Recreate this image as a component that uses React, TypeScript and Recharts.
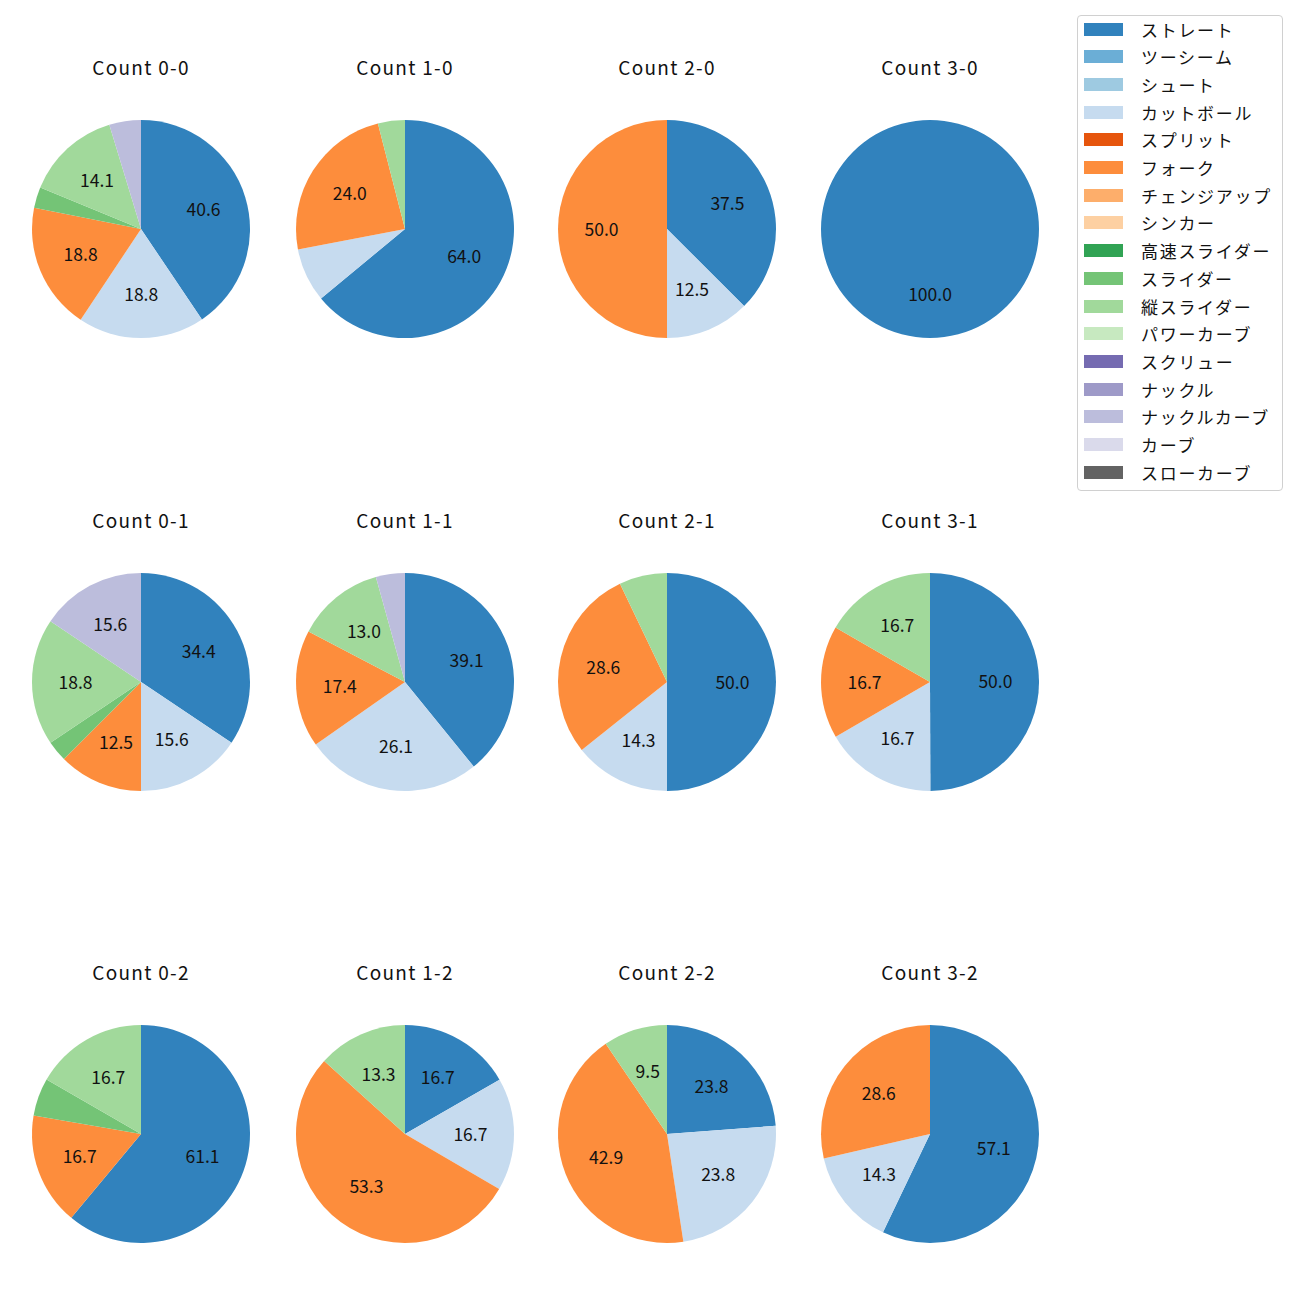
import { PieChart, Pie, Cell, Legend } from "recharts";

const pitchNames = [
  "ストレート", "ツーシーム", "シュート", "カットボール", "スプリット", "フォーク",
  "チェンジアップ", "シンカー", "高速スライダー", "スライダー", "縦スライダー",
  "パワーカーブ", "スクリュー", "ナックル", "ナックルカーブ", "カーブ", "スローカーブ",
];
const pitchColors = [
  "#3182bd", "#6baed6", "#9ecae1", "#c6dbef", "#e6550d", "#fd8d3c",
  "#fdae6b", "#fdd0a2", "#31a354", "#74c476", "#a1d99b", "#c7e9c0",
  "#756bb1", "#9e9ac8", "#bcbddc", "#dadaeb", "#636363",
];

// pitch index, share (%) in clockwise order from 12 o'clock
const count00 = [[0, 40.6], [3, 18.8], [5, 18.8], [9, 3.1], [10, 14.1], [14, 4.7]];
const count10 = [[0, 64.0], [3, 8.0], [5, 24.0], [10, 4.0]];
const count20 = [[0, 37.5], [3, 12.5], [5, 50.0]];
const count30 = [[0, 100.0]];
const count01 = [[0, 34.4], [3, 15.6], [5, 12.5], [9, 3.1], [10, 18.8], [14, 15.6]];
const count11 = [[0, 39.1], [3, 26.1], [5, 17.4], [10, 13.0], [14, 4.3]];
const count21 = [[0, 50.0], [3, 14.3], [5, 28.6], [10, 7.1]];
const count31 = [[0, 50.0], [3, 16.7], [5, 16.7], [10, 16.7]];
const count02 = [[0, 61.1], [5, 16.7], [9, 5.6], [10, 16.7]];
const count12 = [[0, 16.7], [3, 16.7], [5, 53.3], [10, 13.3]];
const count22 = [[0, 23.8], [3, 23.8], [5, 42.9], [10, 9.5]];
const count32 = [[0, 57.1], [3, 14.3], [5, 28.6]];

const panels = [
  { title: "Count 0-0", rows: count00 },
  { title: "Count 1-0", rows: count10 },
  { title: "Count 2-0", rows: count20 },
  { title: "Count 3-0", rows: count30 },
  { title: "Count 0-1", rows: count01 },
  { title: "Count 1-1", rows: count11 },
  { title: "Count 2-1", rows: count21 },
  { title: "Count 3-1", rows: count31 },
  { title: "Count 0-2", rows: count02 },
  { title: "Count 1-2", rows: count12 },
  { title: "Count 2-2", rows: count22 },
  { title: "Count 3-2", rows: count32 },
];

const colX = [141, 405, 667, 930];
const rowY = [229, 682, 1134];
const R = 109;
const FONT = "'Noto Sans CJK JP', 'DejaVu Sans', sans-serif";
const RAD = Math.PI / 180;

function renderLabel(p: any) {
  if (p.value < 9) return null;
  const r = p.outerRadius * 0.6;
  const x = p.cx + r * Math.cos(-p.midAngle * RAD);
  const y = p.cy + r * Math.sin(-p.midAngle * RAD);
  return (
    <text x={x} y={y - 1} textAnchor="middle" dominantBaseline="central"
      fontSize={17.5} fontFamily={FONT} fill="#111">
      {p.value.toFixed(1)}
    </text>
  );
}

function LegendBox() {
  return (
    <div style={{
      position: "absolute", left: 1077, top: 15, width: 204, height: 474,
      border: "1px solid #d0d0d0", borderRadius: 4, background: "#fff",
      fontFamily: FONT, fontSize: 17, color: "#111",
    }}>
      {pitchNames.map((n, i) => (
        <div key={n} style={{
          position: "absolute", left: 6, top: i * 27.7 - 1,
          height: 28, display: "flex", alignItems: "center",
        }}>
          <span style={{ width: 39, height: 13, background: pitchColors[i], display: "inline-block" }} />
          <span style={{ marginLeft: 18, whiteSpace: "nowrap", letterSpacing: 1.7 }}>{n}</span>
        </div>
      ))}
    </div>
  );
}

export default function App() {
  return (
    <div style={{ position: "absolute", left: 0, top: 0, width: 1300, height: 1300, background: "#fff" }}>
      <PieChart width={1300} height={1300} margin={{ top: 0, right: 0, bottom: 0, left: 0 }}>
        {panels.map((pn, k) => {
          const data = pn.rows.map(([idx, v]) => ({ name: pitchNames[idx], value: v, idx }));
          return (
            <Pie
              key={pn.title}
              data={data}
              dataKey="value"
              nameKey="name"
              cx={colX[k % 4]}
              cy={rowY[Math.floor(k / 4)]}
              outerRadius={R}
              startAngle={90}
              endAngle={-270}
              stroke="none"
              label={renderLabel}
              labelLine={false}
              isAnimationActive={false}
            >
              {data.map((d) => (
                <Cell key={d.name} fill={pitchColors[d.idx]} />
              ))}
            </Pie>
          );
        })}
        <Legend content={() => null} />
      </PieChart>
      {panels.map((pn, k) => (
        <div key={pn.title} style={{
          position: "absolute", left: colX[k % 4] - 80, width: 160, textAlign: "center",
          top: rowY[Math.floor(k / 4)] - 173.6, height: 24, lineHeight: "24px",
          fontFamily: FONT, fontSize: 19, letterSpacing: 1.3, color: "#111",
        }}>
          {pn.title}
        </div>
      ))}
      <LegendBox />
    </div>
  );
}
